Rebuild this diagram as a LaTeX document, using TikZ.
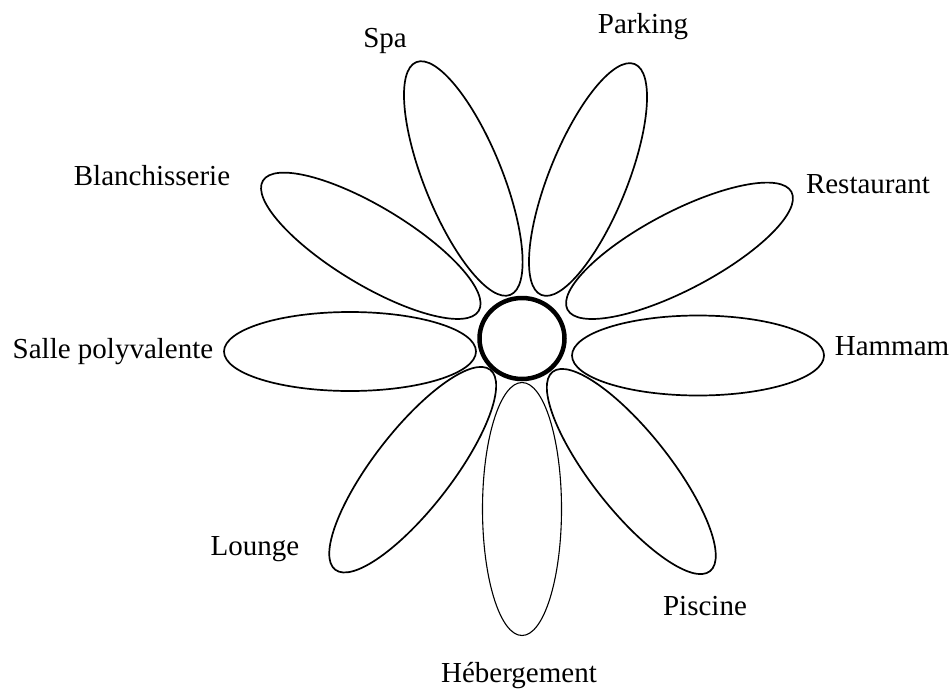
\documentclass[tikz,border=0pt]{standalone}
\usepackage{fontspec}
\setmainfont{Liberation Serif}
\usetikzlibrary{shapes.geometric}
\begin{document}
\begin{tikzpicture}[x=1pt,y=-1pt,
  petal/.style={draw=black,ellipse,line width=1.7pt,inner sep=0pt,minimum height=78pt},
  thinpetal/.style={petal,line width=1.1pt},
  heart/.style={draw=black,ellipse,line width=4.5pt,fill=white,inner sep=0pt},
  lab/.style={anchor=base,inner sep=0pt,font=\fontsize{29}{33}\selectfont}]
\useasboundingbox (0,0) rectangle (952,688);
% petals
\node[petal,minimum width=252pt,minimum height=80pt,rotate=0] (hammam)  at (698,355.5) {};
\node[petal,minimum width=253pt,rotate=27.7]  (resto)   at (679.5,250.8) {};
\node[petal,minimum width=249pt,rotate=68]    (parking) at (588,179.5) {};
\node[petal,minimum width=251pt,rotate=112]   (spa)     at (463.3,178.5) {};
\node[petal,minimum width=252pt,rotate=148.9] (blanch)  at (370.8,245.8) {};
\node[petal,minimum width=252pt,minimum height=79pt,rotate=0] (salle) at (350,351.5) {};
\node[petal,minimum width=253pt,rotate=52.2]  (lounge)  at (412.7,469.7) {};
\node[petal,minimum width=254pt,rotate=-51.7] (piscine) at (631.3,471.5) {};
\node[thinpetal,minimum width=253pt,minimum height=79pt,rotate=90] (heberg) at (522,509) {};
% centre
\node[heart,minimum width=85pt,minimum height=81pt] (centre) at (522,338.5) {};
% labels
\node[lab] (lspa)     at (385,47)  {Spa};
\node[lab] (lparking) at (643,33)  {Parking};
\node[lab] (lblanch)  at (152,185) {Blanchisserie};
\node[lab] (lresto)   at (868,193) {Restaurant};
\node[lab] (lsalle)   at (113,358) {Salle polyvalente};
\node[lab] (lhammam)  at (892,355) {Hammam};
\node[lab] (llounge)  at (255,555) {Lounge};
\node[lab] (lpiscine) at (705,615) {Piscine};
\node[lab] (lheberg)  at (519,682) {Hébergement};
\end{tikzpicture}
\end{document}
